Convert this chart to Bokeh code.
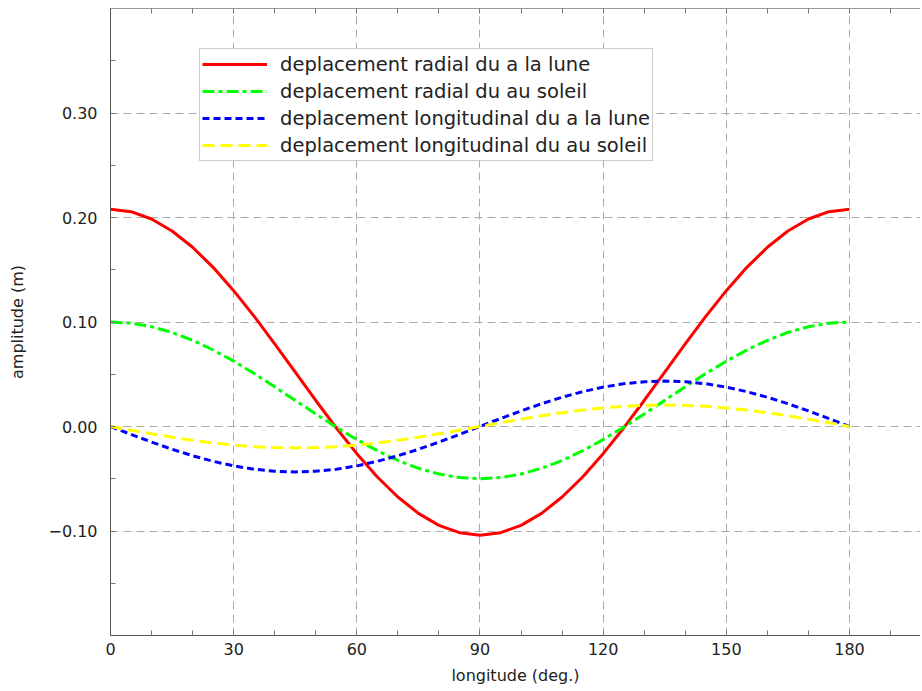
from bokeh.plotting import figure
from bokeh.models import Range1d, FixedTicker, LinearAxis, Legend, LegendItem
from bokeh.embed import file_html
from bokeh.resources import INLINE

# ---- data ----
longitude = [0, 5, 10, 15, 20, 25, 30, 35, 40, 45, 50, 55, 60, 65, 70, 75, 80, 85, 90,
             95, 100, 105, 110, 115, 120, 125, 130, 135, 140, 145, 150, 155, 160, 165, 170, 175, 180]

radial_lune = [0.2080, 0.2056, 0.1986, 0.1871, 0.1715, 0.1523, 0.1300, 0.1054, 0.0791, 0.0520,
               0.0249, -0.0014, -0.0260, -0.0483, -0.0675, -0.0831, -0.0946, -0.1016, -0.1040,
               -0.1016, -0.0946, -0.0831, -0.0675, -0.0483, -0.0260, -0.0014, 0.0249, 0.0520,
               0.0791, 0.1054, 0.1300, 0.1523, 0.1715, 0.1871, 0.1986, 0.2056, 0.2080]

radial_soleil = [0.1000, 0.0989, 0.0955, 0.0900, 0.0825, 0.0732, 0.0625, 0.0507, 0.0380, 0.0250,
                 0.0120, -0.0007, -0.0125, -0.0232, -0.0325, -0.0400, -0.0455, -0.0489, -0.0500,
                 -0.0489, -0.0455, -0.0400, -0.0325, -0.0232, -0.0125, -0.0007, 0.0120, 0.0250,
                 0.0380, 0.0507, 0.0625, 0.0732, 0.0825, 0.0900, 0.0955, 0.0989, 0.1000]

longit_lune = [0.0, -0.0076, -0.0149, -0.0218, -0.0280, -0.0333, -0.0377, -0.0409, -0.0428, -0.0435,
               -0.0428, -0.0409, -0.0377, -0.0333, -0.0280, -0.0218, -0.0149, -0.0076, 0.0,
               0.0076, 0.0149, 0.0218, 0.0280, 0.0333, 0.0377, 0.0409, 0.0428, 0.0435,
               0.0428, 0.0409, 0.0377, 0.0333, 0.0280, 0.0218, 0.0149, 0.0076, 0.0]

longit_soleil = [0.0, -0.0036, -0.0070, -0.0103, -0.0132, -0.0157, -0.0178, -0.0193, -0.0202, -0.0205,
                 -0.0202, -0.0193, -0.0178, -0.0157, -0.0132, -0.0103, -0.0070, -0.0036, 0.0,
                 0.0036, 0.0070, 0.0103, 0.0132, 0.0157, 0.0178, 0.0193, 0.0202, 0.0205,
                 0.0202, 0.0193, 0.0178, 0.0157, 0.0132, 0.0103, 0.0070, 0.0036, 0.0]

series_names = ["deplacement radial du a la lune",
                "deplacement radial du au soleil",
                "deplacement longitudinal du a la lune",
                "deplacement longitudinal du au soleil"]

x_ticks = [0, 30, 60, 90, 120, 150, 180]
x_minor = [10, 20, 40, 50, 70, 80, 100, 110, 130, 140, 160, 170, 190]
x_all_ticks = [0, 10, 20, 30, 40, 50, 60, 70, 80, 90, 100, 110, 120, 130, 140, 150, 160, 170, 180, 190]
y_ticks = [-0.1, 0.0, 0.1, 0.2, 0.3]
y_tick_labels = ["\u22120.10", "0.00", "0.10", "0.20", "0.30"]
y_minor = [-0.15, -0.05, 0.05, 0.15, 0.25, 0.35]

FONT = "DejaVu Sans"

p = figure(width=920, height=689, output_backend="svg", toolbar_location=None,
           x_range=Range1d(0, 197.3), y_range=Range1d(-0.2, 0.4),
           min_border_left=110, min_border_top=8, min_border_right=0, min_border_bottom=54,
           background_fill_color="white", border_fill_color="white")

p.outline_line_color = None

xt = FixedTicker(ticks=x_ticks, minor_ticks=x_minor)
yt = FixedTicker(ticks=y_ticks, minor_ticks=y_minor)

xa = p.xaxis[0]
xa.ticker = xt
xa.axis_label = "longitude (deg.)"
ya = p.yaxis[0]
ya.ticker = yt
ya.axis_label = "amplitude (m)"
ya.major_label_overrides = {t: s for t, s in zip(y_ticks, y_tick_labels)}

for ax in (xa, ya):
    ax.axis_line_color = "#555555"
    ax.major_tick_in = 5
    ax.major_tick_out = 0
    ax.minor_tick_in = 5
    ax.minor_tick_out = 0
    ax.major_tick_line_color = "#777777"
    ax.minor_tick_line_color = "#777777"
    ax.major_label_text_font = FONT
    ax.major_label_text_font_size = "16px"
    ax.major_label_text_color = "#222222"
    ax.axis_label_text_font = FONT
    ax.axis_label_text_font_size = "16px"
    ax.axis_label_text_font_style = "normal"
    ax.axis_label_text_color = "#222222"

xa.major_label_standoff = 7
xa.axis_label_standoff = 8
ya.major_label_standoff = 13
ya.axis_label_standoff = 18

# top axis: tick marks only (no labels)
top = LinearAxis(ticker=FixedTicker(ticks=[], minor_ticks=x_all_ticks),
                 major_tick_in=0, major_tick_out=0, minor_tick_in=5, minor_tick_out=0,
                 axis_line_color="#999999", minor_tick_line_color="#777777")
p.add_layout(top, "above")

p.xgrid.ticker = xt
p.ygrid.ticker = yt
for g in (p.xgrid, p.ygrid):
    g.grid_line_color = "#aaaaaa"
    g.grid_line_dash = "8 5"
    g.grid_line_width = 1

r1 = p.line(longitude, radial_lune, line_color="#ff0000", line_width=3)
r2 = p.line(longitude, radial_soleil, line_color="#00ff00", line_width=3, line_dash="12 4 4 4")
r3 = p.line(longitude, longit_lune, line_color="#0000ff", line_width=3, line_dash="7 4")
r4 = p.line(longitude, longit_soleil, line_color="#ffff00", line_width=3, line_dash="12 6")

legend = Legend(items=[LegendItem(label=n, renderers=[r]) for n, r in zip(series_names, [r1, r2, r3, r4])],
                location=(89, 474), label_text_font=FONT, label_text_font_size="19.5px",
                label_text_color="#222222", glyph_width=65, glyph_height=26, label_height=26,
                spacing=1, padding=2, label_standoff=13, border_line_color="#999999",
                border_line_width=1, background_fill_alpha=1.0, margin=0)
p.add_layout(legend)

open("out.html", "w").write(file_html(p, INLINE))
